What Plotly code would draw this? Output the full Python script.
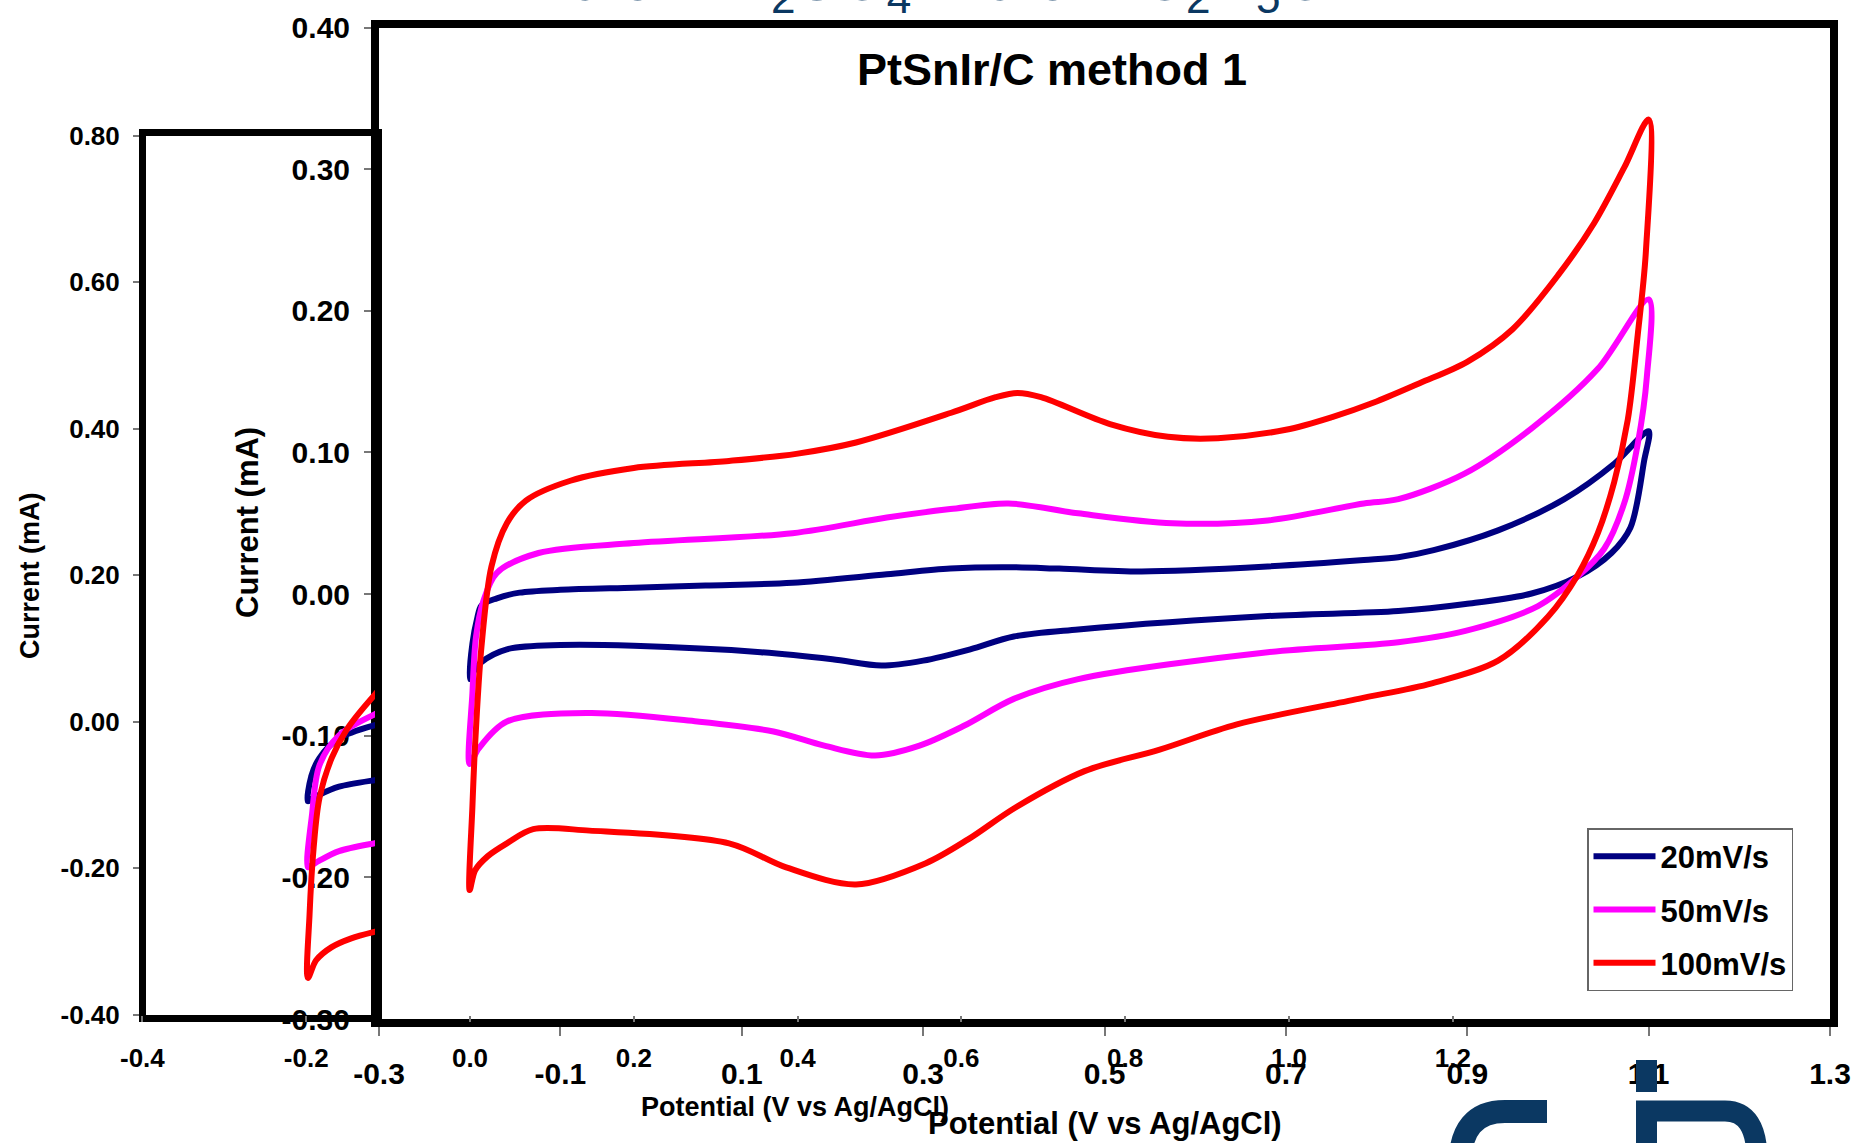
import plotly.graph_objects as go

W, H = 1861, 1143

def px_x(p):
    return p / W

def px_y(p):
    return 1 - p / H

# ---------------- front chart data (PtSnIr/C method 1) ----------------
series_names = ["20mV/s", "50mV/s", "100mV/s"]

pot_20 = [-0.200, -0.197, -0.192, -0.187, -0.170, -0.145, -0.100, -0.019, 0.060, 0.156,
          0.260, 0.330, 0.387, 0.450, 0.541, 0.680, 0.786, 0.824, 0.863, 0.934, 1.007, 1.062, 1.100,
          1.095, 1.080, 1.059, 1.022, 0.971, 0.898, 0.824, 0.680, 0.471, 0.400, 0.352, 0.300,
          0.254, 0.200, 0.121, -0.019, -0.100, -0.159, -0.187, -0.195, -0.200]
cur_20 = [-0.060, -0.035, -0.018, -0.008, -0.003, 0.001, 0.003, 0.0045, 0.006, 0.008,
          0.014, 0.018, 0.019, 0.018, 0.016, 0.0195, 0.024, 0.026, 0.031, 0.045, 0.067, 0.092, 0.115,
          0.094, 0.047, 0.029, 0.0125, 0.0004, -0.007, -0.012, -0.0155, -0.025, -0.030, -0.039, -0.047,
          -0.0505, -0.046, -0.041, -0.0365, -0.036, -0.039, -0.048, -0.054, -0.060]

pot_50 = [-0.200, -0.197, -0.193, -0.185, -0.170, -0.124, -0.019, 0.156, 0.260, 0.330,
          0.394, 0.471, 0.575, 0.680, 0.786, 0.824, 0.897, 0.971, 1.044, 1.100,
          1.098, 1.088, 1.073, 1.051, 1.022, 0.978, 0.898, 0.824, 0.680, 0.471, 0.400, 0.345,
          0.296, 0.247, 0.191, 0.135, 0.051, -0.068, -0.159, -0.190, -0.200]
cur_50 = [-0.120, -0.070, -0.030, -0.005, 0.015, 0.029, 0.036, 0.043, 0.054, 0.060,
          0.064, 0.057, 0.050, 0.052, 0.064, 0.067, 0.085, 0.117, 0.159, 0.208,
          0.153, 0.106, 0.064, 0.032, 0.0125, -0.0085, -0.026, -0.034, -0.041, -0.060, -0.074, -0.093,
          -0.107, -0.114, -0.107, -0.097, -0.090, -0.084, -0.090, -0.109, -0.120]

pot_100 = [-0.200, -0.197, -0.194, -0.187, -0.176, -0.159, -0.138, -0.089, -0.019, 0.086,
           0.160, 0.226, 0.331, 0.380, 0.404, 0.430, 0.506, 0.570, 0.625, 0.700, 0.751, 0.800, 0.848,
           0.900, 0.950, 1.000, 1.040, 1.073, 1.100,
           1.097, 1.088, 1.077, 1.062, 1.044, 1.022, 0.989, 0.934, 0.861, 0.780, 0.646, 0.560,
           0.478, 0.401, 0.350, 0.303, 0.226, 0.149, 0.086, -0.068, -0.130, -0.159, -0.180,
           -0.194, -0.200]
cur_100 = [-0.209, -0.150, -0.106, -0.037, 0.0195, 0.050, 0.066, 0.080, 0.089, 0.094,
           0.099, 0.107, 0.128, 0.139, 0.142, 0.139, 0.120, 0.111, 0.110, 0.116, 0.125, 0.136, 0.149,
           0.164, 0.187, 0.225, 0.262, 0.301, 0.335,
           0.242, 0.183, 0.123, 0.079, 0.043, 0.0137, -0.016, -0.047, -0.063, -0.074, -0.092, -0.110,
           -0.125, -0.151, -0.173, -0.190, -0.205, -0.193, -0.176, -0.167, -0.166, -0.176, -0.185,
           -0.195, -0.209]

# ---------------- back chart data (visible part only) ----------------
back_pot_20 = [-0.202, -0.198, -0.188, -0.164, -0.120, -0.100,
               -0.100, -0.120, -0.164, -0.188, -0.196, -0.202]
back_cur_20 = [-0.109, -0.075, -0.050, -0.023, -0.005, 0.000,
               -0.077, -0.080, -0.089, -0.100, -0.105, -0.109]
back_pot_50 = [-0.202, -0.197, -0.188, -0.164, -0.120, -0.100,
               -0.100, -0.120, -0.164, -0.188, -0.197, -0.202]
back_cur_50 = [-0.199, -0.127, -0.060, -0.019, 0.010, 0.018,
               -0.162, -0.166, -0.177, -0.190, -0.196, -0.199]
back_pot_100 = [-0.202, -0.200, -0.195, -0.188, -0.173, -0.154, -0.120, -0.100,
                -0.100, -0.120, -0.149, -0.173, -0.192, -0.202]
back_cur_100 = [-0.350, -0.263, -0.172, -0.105, -0.050, -0.010, 0.037, 0.060,
                -0.282, -0.287, -0.296, -0.308, -0.326, -0.350]

# ---------------- ticks ----------------
front_xticks = [-0.3, -0.1, 0.1, 0.3, 0.5, 0.7, 0.9, 1.1, 1.3]
front_yticks = [-0.3, -0.2, -0.1, 0.0, 0.1, 0.2, 0.3, 0.4]
back_xticks = [-0.4, -0.2, 0.0, 0.2, 0.4, 0.6, 0.8, 1.0, 1.2]
back_yticks = [-0.4, -0.2, 0.0, 0.2, 0.4, 0.6, 0.8]

NAVY = "#000080"
MAGENTA = "#FF00FF"
RED = "#FF0000"
LOGO = "#0B3862"
FONT = "Liberation Sans"

colors = [NAVY, MAGENTA, RED]

fig = go.Figure()

# back curves
for px_, cy_, c in zip([back_pot_20, back_pot_50, back_pot_100],
                       [back_cur_20, back_cur_50, back_cur_100], colors):
    fig.add_trace(go.Scatter(x=px_, y=cy_, xaxis="x2", yaxis="y2", mode="lines",
                             line=dict(color=c, width=6, shape="spline", smoothing=0.9),
                             showlegend=False, hoverinfo="skip"))

# empty trace so that the back chart's full-length tick axis is drawn
fig.add_trace(go.Scatter(x=[], y=[], xaxis="x3", yaxis="y2", mode="lines",
                         showlegend=False, hoverinfo="skip"))

# front curves
for name, px_, cy_, c in zip(series_names, [pot_20, pot_50, pot_100],
                             [cur_20, cur_50, cur_100], colors):
    fig.add_trace(go.Scatter(x=px_, y=cy_, mode="lines", name=name,
                             legendgroup=name,
                             line=dict(color=c, width=6, shape="spline", smoothing=0.9)))

bold = dict(family=FONT, color="black", weight="bold")

fig.update_layout(
    width=W, height=H, autosize=False,
    margin=dict(l=0, r=0, t=0, b=0, autoexpand=False),
    paper_bgcolor="white", plot_bgcolor="rgba(0,0,0,0)",
    showlegend=True,
    legend=dict(x=px_x(1587), y=px_y(828), xanchor="left", yanchor="top",
                bgcolor="white", bordercolor="#666666", borderwidth=1.5,
                font=dict(size=31, **bold), itemwidth=62,
                traceorder="grouped", tracegroupgap=10),
    xaxis=dict(domain=[px_x(379), px_x(1830)], range=[-0.3, 1.3], anchor="y",
               automargin=False,
               tickvals=front_xticks, ticktext=[f"{v:.1f}" for v in front_xticks],
               ticks="outside", ticklen=9, tickwidth=1.5, tickcolor="#777777",
               ticklabelstandoff=12,
               showline=True, linecolor="black", linewidth=8, mirror=True,
               showgrid=False, zeroline=False, tickfont=dict(size=30, **bold)),
    yaxis=dict(domain=[px_y(1019), px_y(27.5)], range=[-0.3, 0.4], anchor="x",
               automargin=False,
               tickvals=front_yticks, ticktext=[f"{v:.2f}" for v in front_yticks],
               ticks="outside", ticklen=7, tickwidth=1.5, tickcolor="#777777",
               ticklabelstandoff=8,
               showline=True, linecolor="black", linewidth=8, mirror=True,
               showgrid=False, zeroline=False, tickfont=dict(size=30, **bold)),
    xaxis2=dict(domain=[px_x(146), px_x(375)], range=[-0.4, -0.120], anchor="y2",
                automargin=False,
                showticklabels=False, ticks="",
                showline=True, linecolor="black", linewidth=7, mirror=True,
                showgrid=False, zeroline=False),
    yaxis2=dict(domain=[px_y(1014.5), px_y(135.5)], range=[-0.4, 0.8], anchor="x2",
                automargin=False,
                tickvals=back_yticks, ticktext=[f"{v:.2f}" for v in back_yticks],
                ticks="outside", ticklen=6, tickwidth=1.5, tickcolor="#777777",
                ticklabelstandoff=8,
                showline=True, linecolor="black", linewidth=7, mirror=True,
                showgrid=False, zeroline=False, tickfont=dict(size=26, **bold)),
    xaxis3=dict(domain=[px_x(142.4), px_x(142.4 + 163.8 * 9)], range=[-0.4, 1.4], anchor="y2",
                automargin=False,
                tickvals=back_xticks, ticktext=[f"{v:.1f}" for v in back_xticks],
                ticks="outside", ticklen=6, tickwidth=1.5, tickcolor="#777777",
                ticklabelstandoff=14,
                showline=False, showgrid=False, zeroline=False,
                tickfont=dict(size=26, **bold)),
)

annotations = [
    dict(text="PtSnIr/C method 1", x=px_x(1052), y=px_y(69), xanchor="center", yanchor="middle",
         font=dict(size=45, **bold)),
    dict(text="Current (mA)", textangle=-90, x=px_x(247), y=px_y(523), xanchor="center",
         yanchor="middle", font=dict(size=31, **bold)),
    dict(text="Current (mA)", textangle=-90, x=px_x(30), y=px_y(576), xanchor="center",
         yanchor="middle", font=dict(size=27, **bold)),
    dict(text="Potential (V vs Ag/AgCl)", x=px_x(1105), y=px_y(1123), xanchor="center",
         yanchor="middle", font=dict(size=31, **bold)),
    dict(text="Potential (V vs Ag/AgCl)", x=px_x(795), y=px_y(1107), xanchor="center",
         yanchor="middle", font=dict(size=27, **bold)),
    dict(text="0.5M H<sub>2</sub>SO<sub>4</sub> + 0.5M C<sub>2</sub>H<sub>5</sub>OH",
         x=px_x(566), y=px_y(24.5), xanchor="left", yanchor="bottom",
         font=dict(size=63, family=FONT, color=LOGO)),
]
for a in annotations:
    a.update(xref="paper", yref="paper", showarrow=False)
fig.update_layout(annotations=annotations)


def P(x, y):
    return f"{px_x(x):.5f},{px_y(y):.5f}"


shapes = [
    # logo "c"
    dict(type="path", path=f"M {P(1547, 1111.5)} L {P(1505, 1111.5)} Q {P(1460, 1111.5)} {P(1460, 1165)}",
         line=dict(color=LOGO, width=23)),
    # logo "i" dot
    dict(type="rect", x0=px_x(1636), x1=px_x(1657), y0=px_y(1060), y1=px_y(1092),
         line=dict(width=0), fillcolor=LOGO),
    # logo "i" stem + "n"
    dict(type="path",
         path=f"M {P(1646.5, 1160)} L {P(1646.5, 1111)} L {P(1725, 1111)} Q {P(1757, 1111)} {P(1757, 1160)}",
         line=dict(color=LOGO, width=21)),
]
for s in shapes:
    s.update(xref="paper", yref="paper", layer="above")
fig.update_layout(shapes=shapes)

fig.write_html("out.html",
               config={"displayModeBar": False},
               post_script="document.body.style.margin='0px';document.body.style.overflow='hidden';")
